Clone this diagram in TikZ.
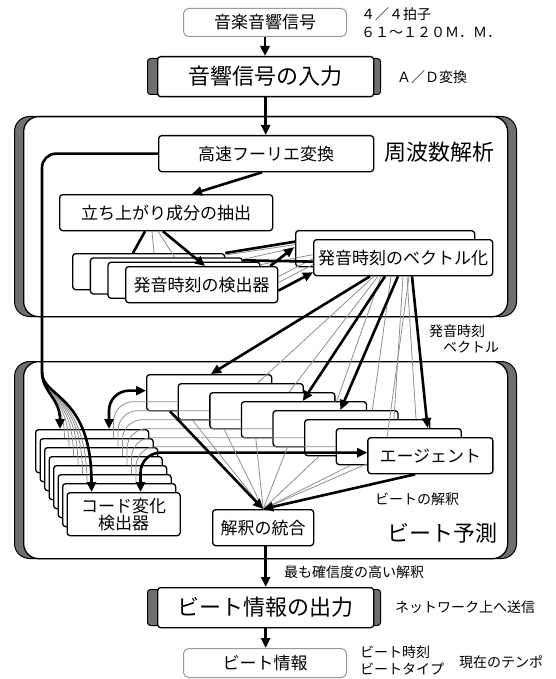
\documentclass[tikz,border=0pt]{standalone}
\usepackage{fontspec}
\setmainfont{Noto Sans CJK JP}
\usetikzlibrary{arrows.meta,calc}
\definecolor{barc}{HTML}{6F6F6F}
\definecolor{thinc}{HTML}{8F8F8F}
\definecolor{rimc}{HTML}{9A9A9A}
\newcommand{\fsS}{\fontsize{14pt}{17pt}\selectfont}
\newcommand{\fsM}{\fontsize{17pt}{18pt}\selectfont}
\newcommand{\fsL}{\fontsize{22pt}{26pt}\selectfont}
\tikzset{
  bx/.style={draw, line width=1.3pt, rounded corners=3pt, fill=white, inner sep=0pt, anchor=north west, font=\fsM},
  rimbox/.style={draw=rimc, line width=1pt, rounded corners=5pt, fill=white, inner sep=0pt, anchor=north west, font=\fsM},
  barbox/.style={draw, line width=1pt, rounded corners=3pt, fill=barc, inner sep=0pt, anchor=north west},
  framebar/.style={draw, line width=1pt, rounded corners=15pt, fill=barc, inner sep=0pt, anchor=north west},
  framewhite/.style={draw, line width=1.3pt, rounded corners=15pt, fill=white, inner sep=0pt, anchor=north west},
  lbl/.style={inner sep=0pt, anchor=west, font=\fsS},
  ttl/.style={inner sep=0pt, anchor=west, font=\fsL},
  thk/.style={line width=2.6pt},
  arr/.style={line width=2.6pt, -{Triangle[length=10pt,width=9pt]}},
  darr/.style={line width=2.6pt, {Triangle[length=10pt,width=9pt]}-{Triangle[length=10pt,width=9pt]}},
  gl/.style={draw=thinc, line width=0.8pt},
}
\begin{document}
\begin{tikzpicture}[x=1pt,y=-1pt]
\useasboundingbox (0,0) rectangle (555,679);
% frames
\node[framebar, minimum width=502pt, minimum height=200pt] (freqbar) at (14,116) {};
\node[framewhite, minimum width=484pt, minimum height=200pt] (freq) at (23,116) {};
\node[framebar, minimum width=502pt, minimum height=197pt] (beatbar) at (14,361) {};
\node[framewhite, minimum width=484pt, minimum height=197pt] (beat) at (23,361) {};
\node[ttl] (ttlf) at (384,152) {周波数解析};
\node[ttl] (ttlb) at (387,533) {ビート予測};
% top
\node[rimbox, minimum width=163pt, minimum height=28pt] (src) at (183,8) {音楽音響信号};
\node[lbl] (l1) at (361,14) {４／４拍子};
\node[lbl] (l2) at (361,32) {６１～１２０Ｍ．Ｍ．};
\node[barbox, minimum width=233pt, minimum height=36pt] (inbar) at (147,58) {};
\node[bx, minimum width=216pt, minimum height=40pt, font=\fsL] (in) at (157,56) {音響信号の入力};
\node[lbl] (l3) at (397,77) {Ａ／Ｄ変換};
% frequency analysis
\node[bx, minimum width=215pt, minimum height=36pt] (fft) at (158,135) {高速フーリエ変換};
\node[bx, minimum width=213pt, minimum height=36pt] (onset) at (59,194) {立ち上がり成分の抽出};
\foreach \i in {0,1,2} \node[bx, minimum width=152pt, minimum height=36pt] (det\i) at ({72+17.7*\i},{253+4.3*\i}) {};
\node[bx, minimum width=152pt, minimum height=36pt] (det3) at (125,266) {発音時刻の検出器};
\node[bx, minimum width=179pt, minimum height=36pt] (vec0) at (295,230) {};
\node[bx, minimum width=179pt, minimum height=36pt] (vec1) at (313,239) {発音時刻のベクトル化};
\node[lbl] (l4) at (429,331) {発音時刻};
\node[lbl] (l5) at (443,347) {ベクトル};
% beat prediction
\foreach \i in {0,...,6} \node[bx, minimum width=125pt, minimum height=36pt] (ag\i) at ({146+31.6*\i},{374+9*\i}) {};
\node[bx, minimum width=125pt, minimum height=36pt] (ag7) at (367.2,437) {エージェント};
\foreach \i in {0,...,6} \node[bx, minimum width=113pt, minimum height=43pt] (ch\i) at ({35+4.5*\i},{429+9*\i}) {};
\node[bx, minimum width=113pt, minimum height=43pt, align=center, font=\fontsize{17pt}{17pt}\selectfont] (ch7) at (66.5,492) {コード変化\\検出器};
\node[bx, minimum width=101pt, minimum height=36pt] (int) at (212,509) {解釈の統合};
\node[lbl] (l6) at (375,499) {ビートの解釈};
% bottom
\node[lbl] (l7) at (284,572) {最も確信度の高い解釈};
\node[barbox, minimum width=233pt, minimum height=36pt] (outbar) at (147,589) {};
\node[bx, minimum width=216pt, minimum height=40pt, font=\fsL] (out) at (157,587) {ビート情報の出力};
\node[lbl] (l8) at (395,607) {ネットワーク上へ送信};
\node[rimbox, minimum width=163pt, minimum height=29pt] (res) at (183,648) {ビート情報};
\node[lbl] (l9) at (360,652) {ビート時刻};
\node[lbl] (l10) at (360,669) {ビートタイプ};
\node[lbl] (l11) at (459,662) {現在のテンポ};
% main flow
\draw[arr] (src.south) -- (src.south |- in.north);
\draw[arr] (in.south) -- (in.south |- fft.north);
\draw[arr] (out.north |- int.south) -- (out.north);
\draw[arr] (out.south) -- (out.south |- res.north);
\draw[arr] ($(fft.south west)+(104,0)$) -- ($(onset.north west)+(133,0)$);
% left line from FFT to chord detectors
\coordinate (L) at (42,372);
\draw[thk, rounded corners=14pt] (fft.west) -| (L);
\foreach \i in {1,...,6} \draw[gl] (L) .. controls (42,394) and ({60+4.5*\i},398) .. ($(ch\i.north west)+(25,0)$);
\draw[arr] (L) .. controls (42,392) and (60,398) .. ($(ch0.north west)+(25,0)$);
\draw[arr] (L) .. controls (42,398) and (91.5,394) .. ($(ch7.north west)+(25,0)$);
% onset -> detectors
\draw[thk] ($(onset.south west)+(86,0)$) -- ($(det0.north west)+(61,0)$);
\draw[gl] ($(onset.south west)+(93,0)$) -- ($(det0.north west)+(82,0)$);
\draw[gl] ($(onset.south west)+(99,0)$) -- ($(det1.north west)+(85,0)$);
\draw[arr] ($(onset.south west)+(104,0)$) -- ($(det3.north west)+(80,0)$);
% detectors -> vectorization
\draw[gl] ($(det0.north east)+(0,2)$) -- ($(vec0.west)+(0,-4)$);
\draw[gl] ($(det1.north east)+(0,2)$) -- ($(vec0.west)+(0,-1)$);
\draw[gl] ($(det2.north east)+(0,3)$) -- ($(vec1.west)+(0,-3)$);
\draw[gl] ($(det3.east)+(0,-8)$) -- ($(vec1.west)+(0,1)$);
\draw[gl] ($(det3.east)+(0,-2)$) -- ($(vec1.west)+(0,7)$);
\draw[thk] (det0.north east) -- ($(vec0.west)+(0,-7)$);
\draw[thk] ($(det1.north east)+(0,3)$) -- ($(vec1.west)+(0,4)$);
\draw[arr] ($(det3.north east)+(-8,0)$) -- ($(vec0.south west)+(-1,-20)$);
\draw[arr] ($(det3.east)+(0,6)$) -- ($(vec1.south west)+(0,-4)$);
% vectorization -> agents
\draw[gl] ($(vec1.south west)+(61,0)$) -- ($(ag1.north west)+(80,0)$);
\draw[gl] ($(vec1.south west)+(65,0)$) -- ($(ag2.north west)+(80,0)$);
\draw[gl] ($(vec1.south west)+(68,0)$) -- ($(ag3.north west)+(96,0)$);
\draw[gl] ($(vec1.south west)+(78,0)$) -- ($(ag4.north west)+(100,0)$);
\draw[gl] ($(vec1.south west)+(90,0)$) -- ($(ag5.north west)+(90,0)$);
\draw[gl] ($(vec1.south west)+(94,0)$) -- ($(ag5.north west)+(112,0)$);
\draw[gl] ($(vec1.south west)+(96,0)$) -- ($(ag7.north west)+(20,0)$);
\draw[arr] ($(vec1.south west)+(57,0)$) -- ($(ag0.north west)+(65,0)$);
\draw[arr] ($(vec1.south west)+(72,0)$) -- ($(ag3.north west)+(62,0)$);
\draw[arr] ($(vec1.south west)+(85,0)$) -- ($(ag4.north west)+(68,0)$);
\draw[arr] ($(vec1.south west)+(99,0)$) -- ($(ag6.north west)+(92,0)$);
% agents <-> chord detectors
\foreach \i in {1,...,6} \draw[gl, rounded corners=20pt] ($(ch\i.north west)+(74,0)$) |- (ag\i.west);
\draw[darr, rounded corners=20pt] ($(ch0.north west)+(74,0)$) |- ($(ag0.west)+(0,-2)$);
\draw[darr, rounded corners=20pt] ($(ch7.north west)+(74,0)$) |- ($(ag7.west)+(0,-3)$);
% agents -> integration
\foreach \i in {1,...,6} \draw[gl] ($(ag\i.south west)+(15,0)$) -- (int.north);
\draw[gl] ($(ag7.west)+(0,8)$) -- (int.north);
\draw[arr] ($(ag0.south west)+(24,0)$) -- (int.north);
\draw[arr] ($(ag7.south west)+(48,0)$) -- (int.north);
\end{tikzpicture}
\end{document}
